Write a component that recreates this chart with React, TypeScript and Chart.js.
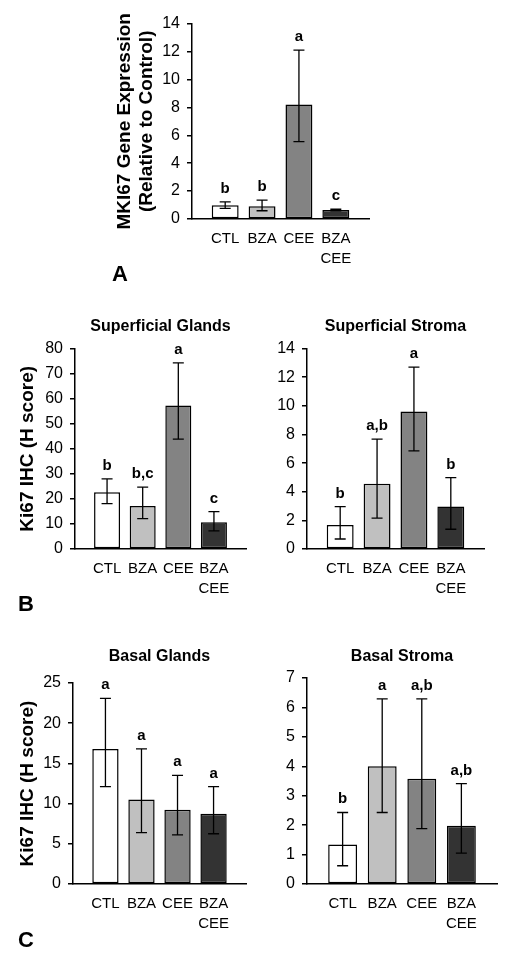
import React, { useEffect, useRef } from 'react';
import { Chart, registerables } from 'chart.js';

Chart.register(...registerables);

const FONT = '"Liberation Sans", Arial, sans-serif';

// ---- data ----
const categories = ['CTL', 'BZA', 'CEE', 'BZA CEE'];
const barColors = ['#ffffff', '#c0c0c0', '#838383', '#333333'];

// Panel A: MKI67 gene expression
const mkiMeans = [0.99, 0.92, 8.2, 0.64];
const mkiHigh = [1.23, 1.35, 12.1, 0.7];
const mkiLow = [0.76, 0.59, 5.55, 0.58];
const mkiLetters = ['b', 'b', 'a', 'c'];

// Panel B: Superficial Glands
const sgMeans = [22.7, 17.2, 57.3, 10.7];
const sgHigh = [28.0, 24.7, 74.3, 14.9];
const sgLow = [18.1, 12.1, 43.9, 7.2];
const sgLetters = ['b', 'b,c', 'a', 'c'];

// Panel B: Superficial Stroma
const ssMeans = [1.68, 4.55, 9.6, 2.97];
const ssHigh = [2.96, 7.68, 12.7, 4.99];
const ssLow = [0.7, 2.15, 6.86, 1.38];
const ssLetters = ['b', 'a,b', 'a', 'b'];

// Panel C: Basal Glands
const bgMeans = [16.8, 10.5, 9.24, 8.74];
const bgHigh = [23.1, 16.8, 13.5, 12.1];
const bgLow = [12.1, 6.4, 6.1, 6.25];
const bgLetters = ['a', 'a', 'a', 'a'];

// Panel C: Basal Stroma
const bsMeans = [1.34, 4.0, 3.58, 1.98];
const bsHigh = [2.43, 6.29, 6.29, 3.41];
const bsLow = [0.62, 2.43, 1.88, 1.05];
const bsLetters = ['b', 'a', 'a,b', 'a,b'];

type PanelCfg = {
  means: number[];
  hi: number[];
  lo: number[];
  letters: string[];
  yMax: number;
  yStep: number;
  title?: string;
  yTitle?: string[];
  left: number;
  top: number;
  width: number;
  height: number;
  yAxisWidth: number;
  padTop: number;
  titlePadTop: number;
  titlePadBottom: number;
};

const panels: PanelCfg[] = [
  {
    means: mkiMeans, hi: mkiHigh, lo: mkiLow, letters: mkiLetters,
    yMax: 14, yStep: 2,
    yTitle: ['MKI67 Gene Expression', '(Relative to Control)'],
    left: 100, top: 7, width: 279, height: 272, yAxisWidth: 92,
    padTop: 15, titlePadTop: 0, titlePadBottom: 0,
  },
  {
    means: sgMeans, hi: sgHigh, lo: sgLow, letters: sgLetters,
    yMax: 80, yStep: 10,
    title: 'Superficial Glands',
    yTitle: ['Ki67 IHC (H score)'],
    left: 0, top: 312, width: 256, height: 297, yAxisWidth: 75,
    padTop: 0, titlePadTop: 5, titlePadBottom: 12.4,
  },
  {
    means: ssMeans, hi: ssHigh, lo: ssLow, letters: ssLetters,
    yMax: 14, yStep: 2,
    title: 'Superficial Stroma',
    left: 257, top: 312, width: 237, height: 297, yAxisWidth: 50,
    padTop: 0, titlePadTop: 5, titlePadBottom: 12.4,
  },
  {
    means: bgMeans, hi: bgHigh, lo: bgLow, letters: bgLetters,
    yMax: 25, yStep: 5,
    title: 'Basal Glands',
    yTitle: ['Ki67 IHC (H score)'],
    left: 0, top: 642, width: 256, height: 302, yAxisWidth: 73,
    padTop: 0, titlePadTop: 5.4, titlePadBottom: 16.4,
  },
  {
    means: bsMeans, hi: bsHigh, lo: bsLow, letters: bsLetters,
    yMax: 7, yStep: 1,
    title: 'Basal Stroma',
    left: 257, top: 642, width: 250, height: 302, yAxisWidth: 50,
    padTop: 0, titlePadTop: 5.4, titlePadBottom: 11.4,
  },
];

function Panel({ cfg }: { cfg: PanelCfg }) {
  const ref = useRef<HTMLCanvasElement>(null);
  useEffect(() => {
    const canvas = ref.current;
    if (!canvas) return;
    const errorBars = {
      id: 'errorBars',
      afterDatasetsDraw(chart: any) {
        const ctx = chart.ctx;
        const y = chart.scales.y;
        const meta = chart.getDatasetMeta(0);
        ctx.save();
        ctx.strokeStyle = '#000';
        ctx.lineWidth = 1.3;
        meta.data.forEach((bar: any, i: number) => {
          const x = bar.x;
          const yt = y.getPixelForValue(cfg.hi[i]);
          const yb = y.getPixelForValue(cfg.lo[i]);
          ctx.beginPath();
          ctx.moveTo(x, yt);
          ctx.lineTo(x, yb);
          ctx.moveTo(x - 5.5, yt);
          ctx.lineTo(x + 5.5, yt);
          ctx.moveTo(x - 5.5, yb);
          ctx.lineTo(x + 5.5, yb);
          ctx.stroke();
          ctx.fillStyle = '#000';
          ctx.font = `bold 15px ${FONT}`;
          ctx.textAlign = 'center';
          ctx.textBaseline = 'alphabetic';
          ctx.fillText(cfg.letters[i], x, yt - 9);
        });
        ctx.restore();
      },
    };

    const chart = new Chart(canvas, {
      type: 'bar',
      data: {
        datasets: [
          {
            data: cfg.means.map((v, i) => ({ x: i + 1, y: v })),
            backgroundColor: barColors,
            borderColor: '#000',
            borderWidth: 1.5,
            borderSkipped: false,
            barPercentage: 0.73,
            categoryPercentage: 1,
          } as any,
        ],
      },
      options: {
        responsive: false,
        animation: false,
        layout: { padding: { left: 0, right: 10, top: cfg.padTop, bottom: 0 } },
        plugins: {
          legend: { display: false },
          tooltip: { enabled: false },
          title: cfg.title
            ? {
                display: true,
                text: cfg.title,
                fullSize: false,
                color: '#000',
                font: { family: FONT, size: 16, weight: 'bold', lineHeight: 1.2 },
                padding: { top: cfg.titlePadTop, bottom: cfg.titlePadBottom },
              }
            : { display: false },
        },
        scales: {
          x: {
            type: 'linear',
            min: 0.1,
            max: 4.9,
            offset: false,
            afterBuildTicks: (axis: any) => {
              axis.ticks = categories.map((_, i) => ({ value: i + 1 }));
            },
            afterFit: (s: any) => {
              s.height = 60;
            },
            ticks: {
              autoSkip: false,
              maxRotation: 0,
              padding: 10,
              color: '#000',
              font: { family: FONT, size: 15, lineHeight: 1.33 },
              callback: (v: any) => {
                const idx = Math.round(Number(v)) - 1;
                const label = categories[idx];
                return label ? label.split(' ') : '';
              },
            },
            grid: { display: false, drawTicks: false, offset: false },
            border: { display: true, color: '#000', width: 1.5 },
          },
          y: {
            min: 0,
            max: cfg.yMax,
            afterFit: (s: any) => {
              s.width = cfg.yAxisWidth;
            },
            ticks: {
              stepSize: cfg.yStep,
              padding: 7,
              color: '#000',
              font: { family: FONT, size: 16 },
            },
            grid: {
              display: true,
              drawOnChartArea: false,
              drawTicks: true,
              tickLength: 5,
              color: '#000',
              lineWidth: 1.5,
            },
            border: { display: true, color: '#000', width: 1.5 },
            title: cfg.yTitle
              ? {
                  display: true,
                  text: cfg.yTitle,
                  color: '#000',
                  font: { family: FONT, size: 19, weight: 'bold', lineHeight: 1.15 },
                  padding: { top: cfg.yTitle.length > 1 ? 14 : 17, bottom: 0 },
                }
              : { display: false },
          },
        },
      } as any,
      plugins: [errorBars],
    });
    return () => chart.destroy();
  }, [cfg]);

  return (
    <canvas
      ref={ref}
      width={cfg.width}
      height={cfg.height}
      style={{ position: 'absolute', left: cfg.left, top: cfg.top, width: cfg.width, height: cfg.height }}
    />
  );
}

const panelLetters = [
  { text: 'A', x: 120, y: 274 },
  { text: 'B', x: 26, y: 604 },
  { text: 'C', x: 26, y: 940 },
];

export default function App() {
  return (
    <div style={{ position: 'absolute', left: 0, top: 0, width: 509, height: 960, background: '#fff' }}>
      {panels.map((p, i) => (
        <Panel key={i} cfg={p} />
      ))}
      {panelLetters.map((l) => (
        <div
          key={l.text}
          style={{
            position: 'absolute',
            left: l.x,
            top: l.y,
            transform: 'translate(-50%, -50%)',
            fontFamily: FONT,
            fontWeight: 'bold',
            fontSize: 22,
            lineHeight: 1,
            color: '#000',
          }}
        >
          {l.text}
        </div>
      ))}
    </div>
  );
}
